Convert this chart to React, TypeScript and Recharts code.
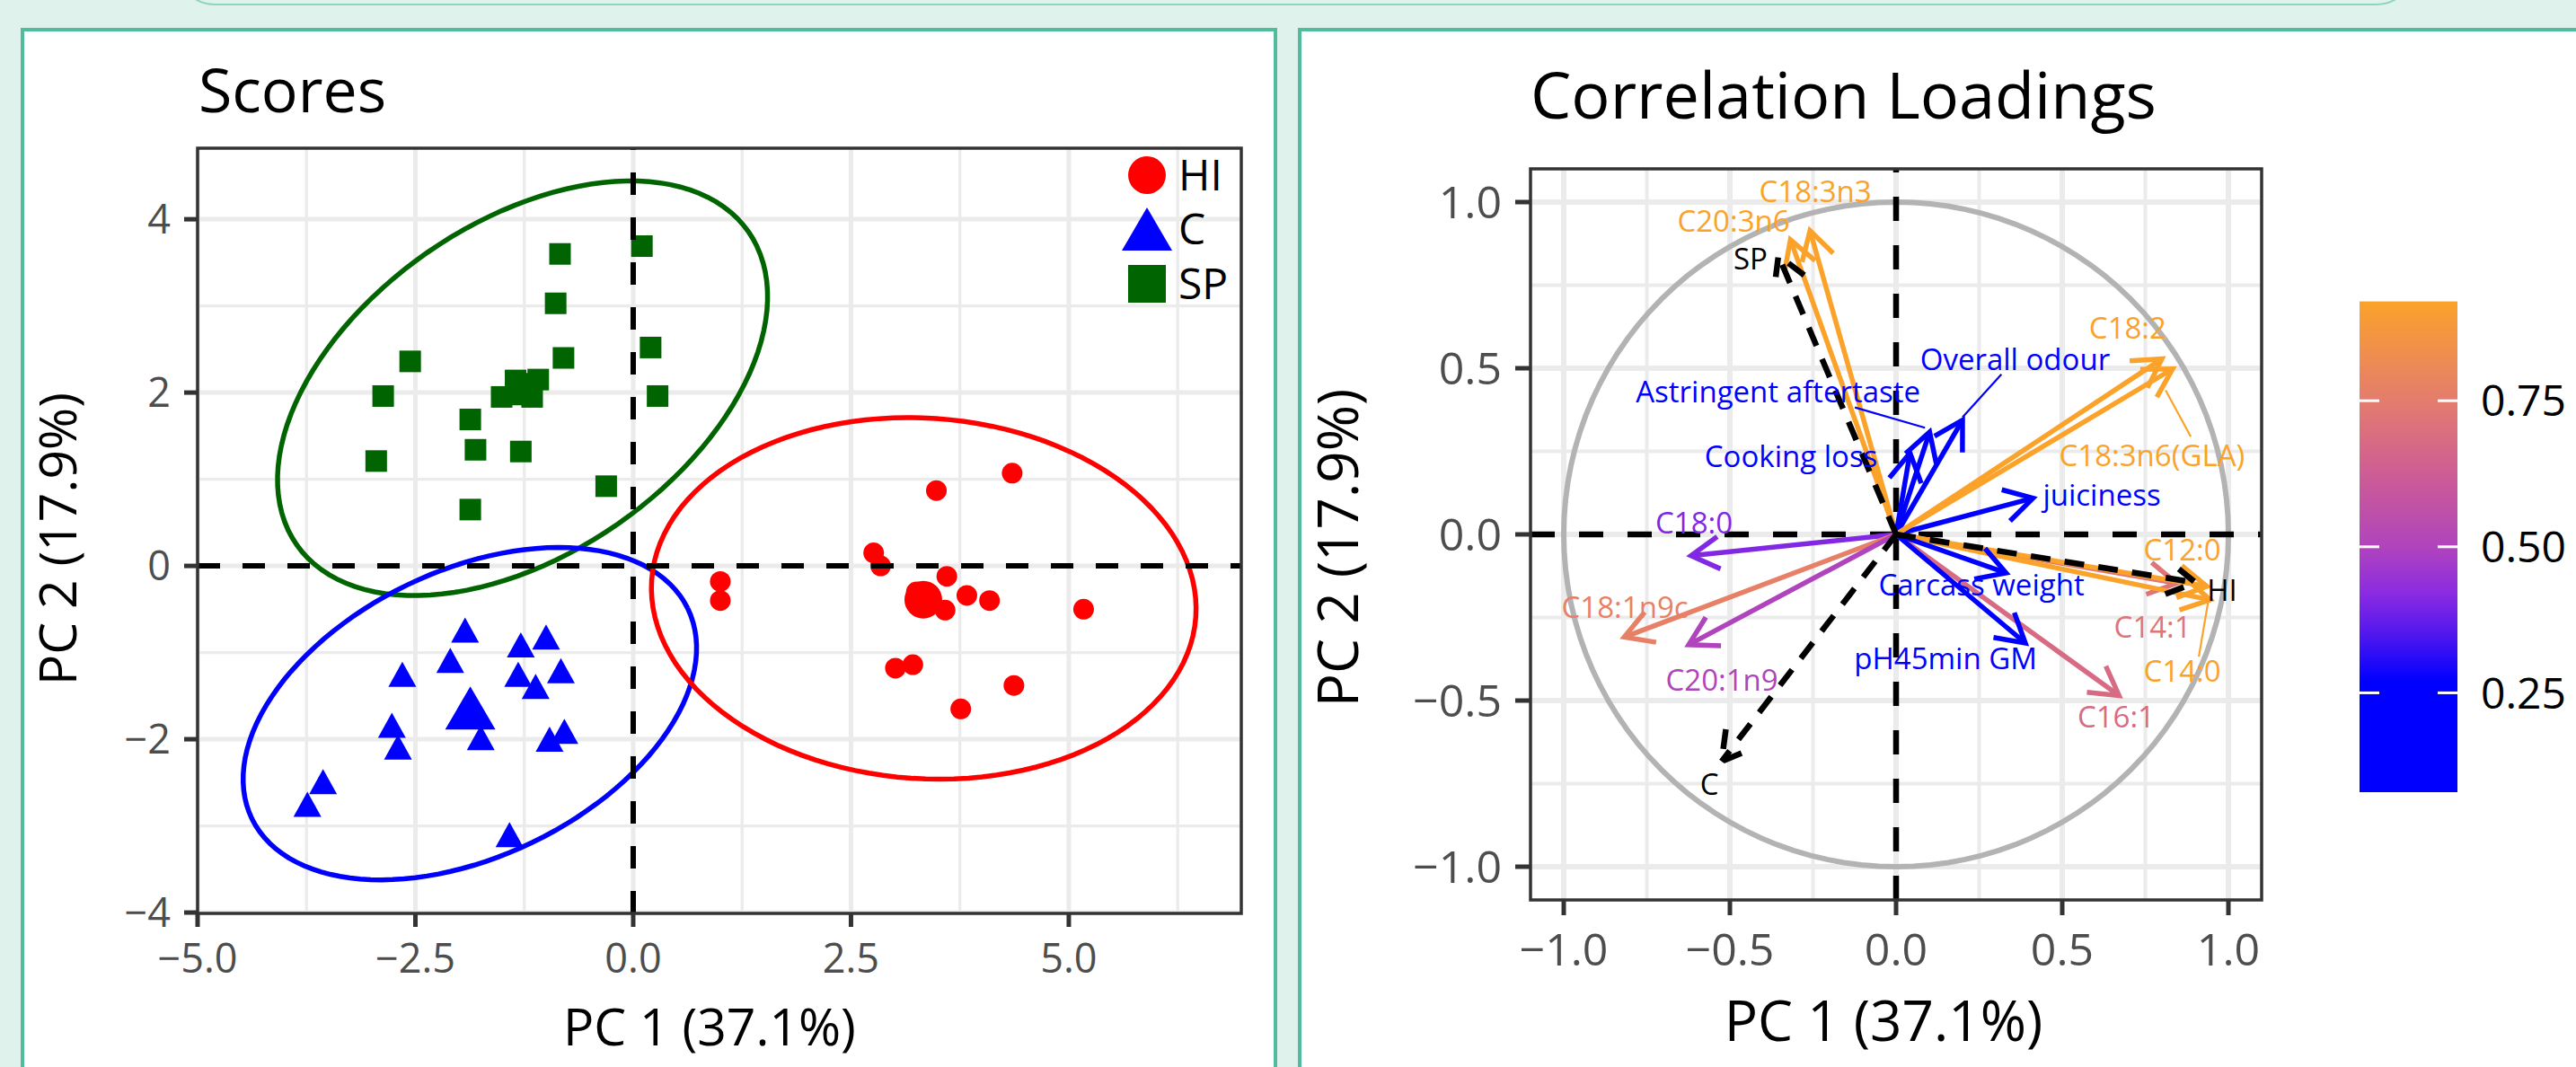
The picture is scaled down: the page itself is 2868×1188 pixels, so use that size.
import React from 'react'
import { ScatterChart, Scatter, XAxis, YAxis, ReferenceLine, ReferenceArea } from 'recharts'

const FONT = '"Open Sans", "Noto Sans", sans-serif'

// ---- Scores plot data (PC1, PC2) ----
const hiScores = [
  [4.35, 1.07], [3.48, 0.87], [2.76, 0.15], [2.84, 0.0], [1.0, -0.18], [1.0, -0.4],
  [3.6, -0.12], [3.83, -0.34], [4.09, -0.4], [3.58, -0.51], [5.17, -0.5], [3.01, -1.18],
  [3.21, -1.14], [4.37, -1.38], [3.76, -1.65], [3.25, -0.3],
]
const cScores = [
  [-1.93, -0.74], [-1.29, -0.91], [-1.0, -0.82], [-2.1, -1.09], [-2.65, -1.25], [-1.32, -1.25],
  [-0.83, -1.21], [-1.12, -1.39], [-2.77, -1.84], [-1.75, -1.98], [-0.79, -1.91], [-0.96, -2.0],
  [-2.7, -2.09], [-3.56, -2.49], [-3.74, -2.75], [-1.42, -3.1],
]
const spScores = [
  [-0.84, 3.6], [0.1, 3.69], [-0.89, 3.03], [0.2, 2.52], [-2.56, 2.36], [-0.8, 2.4],
  [-2.87, 1.96], [0.28, 1.96], [-1.51, 1.95], [-1.35, 2.14], [-1.09, 2.15], [-1.16, 1.95],
  [-1.87, 1.69], [-1.81, 1.34], [-1.29, 1.32], [-2.95, 1.21], [-0.31, 0.92], [-1.87, 0.65],
]
const hiCentroid = [[3.33, -0.39]]
const cCentroid = [[-1.87, -1.64]]
const spCentroid = [[-1.27, 2.04]]

// confidence ellipses: centre, semi-axes, rotation (deg)
const ellipseSP = { cx: -1.27, cy: 2.05, a: 3.16, b: 1.91, angle: 34.9 }
const ellipseC = { cx: -1.875, cy: -1.705, a: 2.78, b: 1.65, angle: 25.9 }
const ellipseHI = { cx: 3.335, cy: -0.375, a: 3.13, b: 2.08, angle: -3.9 }

const scoreXTicks = [-5, -2.5, 0, 2.5, 5]
const scoreXMinor = [-3.75, -1.25, 1.25, 3.75, 6.25]
const scoreYTicks = [-4, -2, 0, 2, 4]
const scoreYMinor = [-3, -1, 1, 3]

// ---- Correlation loadings data ----
const loadingNames = ['C18:3n3', 'C20:3n6', 'Astringent aftertaste', 'Overall odour', 'Cooking loss', 'juiciness', 'C18:2', 'C18:3n6(GLA)', 'C18:0', 'C18:1n9c', 'C20:1n9', 'C14:1', 'C12:0', 'C14:0', 'C16:1', 'Carcass weight', 'pH45min GM']
const loadingPC1 = [-0.259, -0.318, 0.101, 0.2, 0.042, 0.412, 0.8, 0.832, -0.617, -0.818, -0.624, 0.844, 0.935, 0.945, 0.671, 0.331, 0.389]
const loadingPC2 = [0.914, 0.887, 0.308, 0.344, 0.245, 0.109, 0.528, 0.498, -0.064, -0.309, -0.332, -0.147, -0.156, -0.197, -0.485, -0.116, -0.327]
const loadingWeight = [0.92, 0.92, 0.15, 0.15, 0.15, 0.15, 0.92, 0.92, 0.41, 0.77, 0.5, 0.72, 0.92, 0.92, 0.68, 0.15, 0.15]
const labelPC1 = [-0.243, -0.489, -0.355, 0.358, -0.316, 0.619, 0.697, 0.77, -0.608, -0.816, -0.524, 0.772, 0.861, 0.861, 0.662, 0.257, 0.149]
const labelPC2 = [1.031, 0.943, 0.429, 0.527, 0.236, 0.118, 0.62, 0.238, 0.036, -0.219, -0.437, -0.28, -0.046, -0.41, -0.55, -0.152, -0.373]

const groupNames = ['HI', 'C', 'SP']
const groupPC1 = [0.901, -0.525, -0.354]
const groupPC2 = [-0.145, -0.683, 0.839]
const groupLabelPC1 = [0.981, -0.562, -0.438]
const groupLabelPC2 = [-0.167, -0.751, 0.83]

// repel leader segments [label end -> point end]
const leaderFor = ['Astringent aftertaste', 'Overall odour', 'C18:3n6(GLA)', 'C14:0']
const leaderFrom = [[-0.124, 0.382], [0.317, 0.482], [0.887, 0.294], [0.911, -0.368]]
const leaderTo = [[0.087, 0.321], [0.2, 0.353], [0.811, 0.434], [0.94, -0.197]]

const loadTicks = [-1, -0.5, 0, 0.5, 1]
const loadMinor = [-0.75, -0.25, 0.25, 0.75]

const colorbarTicks = [0.25, 0.5, 0.75]
const colorbarRange = [0.08, 0.92]
const colorStops: [number, string][] = [
  [0.08, '#0000ff'], [0.27, '#0000ff'], [0.36, '#5a1aec'], [0.42, '#8a2be2'],
  [0.5, '#b044bc'], [0.62, '#cc5c96'], [0.75, '#e47c6e'], [0.92, '#fba22a'],
]

const hex = (c: string) => [1, 3, 5].map((i) => parseInt(c.slice(i, i + 2), 16))
function colorFor(v: number) {
  if (v <= colorStops[0][0]) return colorStops[0][1]
  for (let i = 1; i < colorStops.length; i++) {
    const [v1, c1] = colorStops[i]
    const [v0, c0] = colorStops[i - 1]
    if (v <= v1) {
      const t = (v - v0) / (v1 - v0)
      const a = hex(c0), b = hex(c1)
      const m = a.map((x, k) => Math.round(x + (b[k] - x) * t))
      return `rgb(${m[0]},${m[1]},${m[2]})`
    }
  }
  return colorStops[colorStops.length - 1][1]
}

const pts = (arr: number[][]) => arr.map(([x, y]) => ({ x, y }))

function ellipsePoints(e: { cx: number; cy: number; a: number; b: number; angle: number }) {
  const th = (e.angle * Math.PI) / 180
  const out = []
  for (let i = 0; i <= 120; i++) {
    const t = (i / 120) * 2 * Math.PI
    out.push({
      x: e.cx + e.a * Math.cos(th) * Math.cos(t) - e.b * Math.sin(th) * Math.sin(t),
      y: e.cy + e.a * Math.sin(th) * Math.cos(t) + e.b * Math.cos(th) * Math.sin(t),
    })
  }
  return out
}

const unitCircle = Array.from({ length: 121 }, (_, i) => ({
  x: Math.cos((i / 120) * 2 * Math.PI),
  y: Math.sin((i / 120) * 2 * Math.PI),
}))

const minus = (s: string) => s.replace('-', '\u2212')
const fmt1 = (v: number) => minus(v.toFixed(1))
const fmt0 = (v: number) => minus(String(v))

const RED = '#ff0000'
const BLUE = '#0000ff'
const GREEN = '#006400'
const GRID = '#ebebeb'

const circleShape = (r: number) => (p: any) => <circle cx={p.cx} cy={p.cy} r={r} fill={RED} />
const squareShape = (s: number) => (p: any) => <rect x={p.cx - s / 2} y={p.cy - s / 2} width={s} height={s} fill={GREEN} />
const triangleShape = (w: number, h: number) => (p: any) => (
  <polygon points={`${p.cx},${p.cy - h / 2} ${p.cx + w / 2},${p.cy + h / 2} ${p.cx - w / 2},${p.cy + h / 2}`} fill={BLUE} />
)
const noShape = () => <g />

const arrowShape = (color: string, width: number, dash?: string) => (p: any) => {
  const { x1, y1, x2, y2 } = p
  const ang = Math.atan2(y2 - y1, x2 - x1)
  const L = 36
  const a = Math.PI / 6
  const hx1 = x2 - L * Math.cos(ang - a)
  const hy1 = y2 - L * Math.sin(ang - a)
  const hx2 = x2 - L * Math.cos(ang + a)
  const hy2 = y2 - L * Math.sin(ang + a)
  return (
    <g>
      <line x1={x1} y1={y1} x2={x2} y2={y2} stroke={color} strokeWidth={width} strokeDasharray={dash} />
      <polyline points={`${hx1},${hy1} ${x2},${y2} ${hx2},${hy2}`} fill="none" stroke={color} strokeWidth={width} strokeDasharray={dash} />
    </g>
  )
}

const labelShape = (size: number) => (p: any) => {
  const d = p.payload || p
  return (
    <text x={p.cx} y={p.cy} dy="0.36em" textAnchor="middle" fontSize={size} fontFamily={FONT} fill={d.color}>
      {d.name}
    </text>
  )
}

function ScoresChart() {
  const tick = { fontSize: 45, fill: '#4d4d4d', fontFamily: FONT }
  return (
    <ScatterChart width={1420} height={1188} margin={{ top: 165, right: 38, bottom: 101, left: 140 }}>
      <XAxis type="number" dataKey="x" domain={[-5, 6.98]} allowDataOverflow ticks={scoreXTicks} interval={0}
        tickFormatter={fmt1} height={70} tickSize={15} tickMargin={19} tick={tick} axisLine={false}
        tickLine={{ stroke: '#333', strokeWidth: 5 }} />
      <YAxis type="number" dataKey="y" domain={[-4.01, 4.82]} allowDataOverflow ticks={scoreYTicks} interval={0}
        tickFormatter={fmt0} width={80} tickSize={15} tickMargin={15} tick={tick} axisLine={false}
        tickLine={{ stroke: '#333', strokeWidth: 5 }} />
      {scoreXMinor.map((v) => <ReferenceLine key={'xm' + v} x={v} stroke={GRID} strokeWidth={3.3} zIndex={50} />)}
      {scoreYMinor.map((v) => <ReferenceLine key={'ym' + v} y={v} stroke={GRID} strokeWidth={3.3} zIndex={50} />)}
      {scoreXTicks.map((v) => <ReferenceLine key={'xM' + v} x={v} stroke={GRID} strokeWidth={5} zIndex={50} />)}
      {scoreYTicks.map((v) => <ReferenceLine key={'yM' + v} y={v} stroke={GRID} strokeWidth={5} zIndex={50} />)}
      <Scatter data={ellipsePoints(ellipseSP)} shape={noShape} line={{ stroke: GREEN, strokeWidth: 5.5, fill: 'none' }} isAnimationActive={false} zIndex={100} />
      <Scatter data={ellipsePoints(ellipseC)} shape={noShape} line={{ stroke: BLUE, strokeWidth: 5.5, fill: 'none' }} isAnimationActive={false} zIndex={100} />
      <Scatter data={ellipsePoints(ellipseHI)} shape={noShape} line={{ stroke: RED, strokeWidth: 5.5, fill: 'none' }} isAnimationActive={false} zIndex={100} />
      <Scatter data={pts(hiScores)} shape={circleShape(11.5)} isAnimationActive={false} zIndex={200} />
      <Scatter data={pts(cScores)} shape={triangleShape(31, 28)} isAnimationActive={false} zIndex={200} />
      <Scatter data={pts(spScores)} shape={squareShape(24)} isAnimationActive={false} zIndex={200} />
      <Scatter data={pts(hiCentroid)} shape={circleShape(21)} isAnimationActive={false} zIndex={200} />
      <Scatter data={pts(cCentroid)} shape={triangleShape(56, 48)} isAnimationActive={false} zIndex={200} />
      <Scatter data={pts(spCentroid)} shape={squareShape(36)} isAnimationActive={false} zIndex={200} />
      <ReferenceLine y={0} stroke="#000" strokeWidth={6} strokeDasharray="25 25" zIndex={300} />
      <ReferenceLine x={0} stroke="#000" strokeWidth={6} strokeDasharray="25 25" zIndex={300} />
      <ReferenceArea x1={-5} x2={6.98} y1={-4.01} y2={4.82} fill="none" stroke="#333" strokeWidth={3.5} zIndex={350} />
    </ScatterChart>
  )
}

function LoadingsChart() {
  const tick = { fontSize: 50, fill: '#4d4d4d', fontFamily: FONT }
  const labels = loadingNames.map((name, i) => ({ name, x: labelPC1[i], y: labelPC2[i], color: colorFor(loadingWeight[i]) }))
  const groupLabels = groupNames.map((name, i) => ({ name, x: groupLabelPC1[i], y: groupLabelPC2[i], color: '#000' }))
  return (
    <ScatterChart width={1421} height={1188} margin={{ top: 188, right: 350, bottom: 106, left: 157 }}>
      <XAxis type="number" dataKey="x" domain={[-1.1, 1.1]} allowDataOverflow ticks={loadTicks} interval={0}
        tickFormatter={fmt1} height={80} tickSize={17} tickMargin={20} tick={tick} axisLine={false}
        tickLine={{ stroke: '#333', strokeWidth: 5 }} />
      <YAxis type="number" dataKey="y" domain={[-1.1, 1.1]} allowDataOverflow ticks={loadTicks} interval={0}
        tickFormatter={fmt1} width={100} tickSize={17} tickMargin={15} tick={tick} axisLine={false}
        tickLine={{ stroke: '#333', strokeWidth: 5 }} />
      {loadMinor.map((v) => <ReferenceLine key={'xm' + v} x={v} stroke={GRID} strokeWidth={4} zIndex={50} />)}
      {loadMinor.map((v) => <ReferenceLine key={'ym' + v} y={v} stroke={GRID} strokeWidth={4} zIndex={50} />)}
      {loadTicks.map((v) => <ReferenceLine key={'xM' + v} x={v} stroke={GRID} strokeWidth={6} zIndex={50} />)}
      {loadTicks.map((v) => <ReferenceLine key={'yM' + v} y={v} stroke={GRID} strokeWidth={6} zIndex={50} />)}
      <Scatter data={unitCircle} shape={noShape} line={{ stroke: '#b3b3b3', strokeWidth: 6, fill: 'none' }} isAnimationActive={false} zIndex={100} />
      <ReferenceLine y={0} stroke="#000" strokeWidth={6.5} strokeDasharray="27 27" zIndex={150} />
      <ReferenceLine x={0} stroke="#000" strokeWidth={6.5} strokeDasharray="27 27" zIndex={150} />
      {loadingNames.map((n, i) => (
        <ReferenceLine key={'a' + n} segment={[{ x: 0, y: 0 }, { x: loadingPC1[i], y: loadingPC2[i] }]}
          shape={arrowShape(colorFor(loadingWeight[i]), 5.5)} zIndex={200} />
      ))}
      {groupNames.map((n, i) => (
        <ReferenceLine key={'g' + n} segment={[{ x: 0, y: 0 }, { x: groupPC1[i], y: groupPC2[i] }]}
          shape={arrowShape('#000', 6.5, '22 16')} zIndex={210} />
      ))}
      {leaderFor.map((n, i) => (
        <ReferenceLine key={'l' + n} segment={[{ x: leaderFrom[i][0], y: leaderFrom[i][1] }, { x: leaderTo[i][0], y: leaderTo[i][1] }]}
          stroke={colorFor(loadingWeight[loadingNames.indexOf(n)])} strokeWidth={2.2} zIndex={220} />
      ))}
      <Scatter data={labels} shape={labelShape(33)} isAnimationActive={false} zIndex={300} />
      <Scatter data={groupLabels} shape={labelShape(33)} isAnimationActive={false} zIndex={300} />
      <ReferenceArea x1={-1.1} x2={1.1} y1={-1.1} y2={1.1} fill="none" stroke="#333" strokeWidth={3.5} zIndex={350} />
    </ScatterChart>
  )
}

function Background() {
  const cbTop = 335.6
  const cbBottom = 882
  const cbY = (v: number) => cbTop + ((colorbarRange[1] - v) / (colorbarRange[1] - colorbarRange[0])) * (cbBottom - cbTop)
  return (
    <svg width={2868} height={1188} style={{ position: 'absolute', left: 0, top: 0 }}>
      <defs>
        <linearGradient id="cb" x1="0" y1="0" x2="0" y2="1">
          {[...colorStops].reverse().map(([v, c]) => (
            <stop key={v} offset={(colorbarRange[1] - v) / (colorbarRange[1] - colorbarRange[0])} stopColor={c} />
          ))}
        </linearGradient>
      </defs>
      <rect x={0} y={0} width={2868} height={1188} fill="#dff2ec" />
      <rect x={195} y={-90} width={2495} height={95} rx={45} fill="#dff2ec" stroke="#8fd3c0" strokeWidth={2} />
      <rect x={25} y={33} width={1395} height={1200} fill="#fff" stroke="#50bc9c" strokeWidth={4} />
      <rect x={1447} y={33} width={1500} height={1200} fill="#fff" stroke="#50bc9c" strokeWidth={4} />
      <text x={221} y={125} fontSize={68} fontFamily={FONT} fill="#000">Scores</text>
      <text x={1704} y={132} fontSize={72} fontFamily={FONT} fill="#000">Correlation Loadings</text>
      <text x={790} y={1143} dy="0.36em" textAnchor="middle" fontSize={57} fontFamily={FONT} fill="#000">PC 1 (37.1%)</text>
      <text x={64} y={600} dy="0.36em" textAnchor="middle" fontSize={57} fontFamily={FONT} fill="#000" transform="rotate(-90 64 600)">PC 2 (17.9%)</text>
      <text x={2097} y={1137} dy="0.36em" textAnchor="middle" fontSize={62} fontFamily={FONT} fill="#000">PC 1 (37.1%)</text>
      <text x={1490} y={610} dy="0.36em" textAnchor="middle" fontSize={62} fontFamily={FONT} fill="#000" transform="rotate(-90 1490 610)">PC 2 (17.9%)</text>
      <rect x={2627} y={cbTop} width={109} height={cbBottom - cbTop} fill="url(#cb)" />
      {colorbarTicks.map((v) => (
        <g key={v}>
          <line x1={2627} x2={2649} y1={cbY(v)} y2={cbY(v)} stroke="#fff" strokeWidth={3} />
          <line x1={2714} x2={2736} y1={cbY(v)} y2={cbY(v)} stroke="#fff" strokeWidth={3} />
          <text x={2762} y={cbY(v)} dy="0.36em" fontSize={48} fontFamily={FONT} fill="#000">{v.toFixed(2)}</text>
        </g>
      ))}
    </svg>
  )
}

function ScoresLegend() {
  const items = [
    { name: 'HI', y: 195 },
    { name: 'C', y: 255 },
    { name: 'SP', y: 316 },
  ]
  const cx = 1277
  return (
    <svg width={2868} height={1188} style={{ position: 'absolute', left: 0, top: 0, pointerEvents: 'none' }}>
      {items.map((it) => (
        <g key={it.name}>
          {it.name === 'HI' && <circle cx={cx} cy={it.y} r={21} fill={RED} />}
          {it.name === 'C' && <polygon points={`${cx},${it.y - 24} ${cx + 28},${it.y + 24} ${cx - 28},${it.y + 24}`} fill={BLUE} />}
          {it.name === 'SP' && <rect x={cx - 21} y={it.y - 21} width={42} height={42} fill={GREEN} />}
          <text x={1312} y={it.y} dy="0.36em" fontSize={48} fontFamily={FONT} fill="#000">{it.name}</text>
        </g>
      ))}
    </svg>
  )
}

export default function App() {
  return (
    <div style={{ position: 'absolute', left: 0, top: 0, width: 2868, height: 1188, overflow: 'hidden' }}>
      <Background />
      <div style={{ position: 'absolute', left: 0, top: 0 }}>
        <ScoresChart />
      </div>
      <div style={{ position: 'absolute', left: 1447, top: 0 }}>
        <LoadingsChart />
      </div>
      <ScoresLegend />
    </div>
  )
}
